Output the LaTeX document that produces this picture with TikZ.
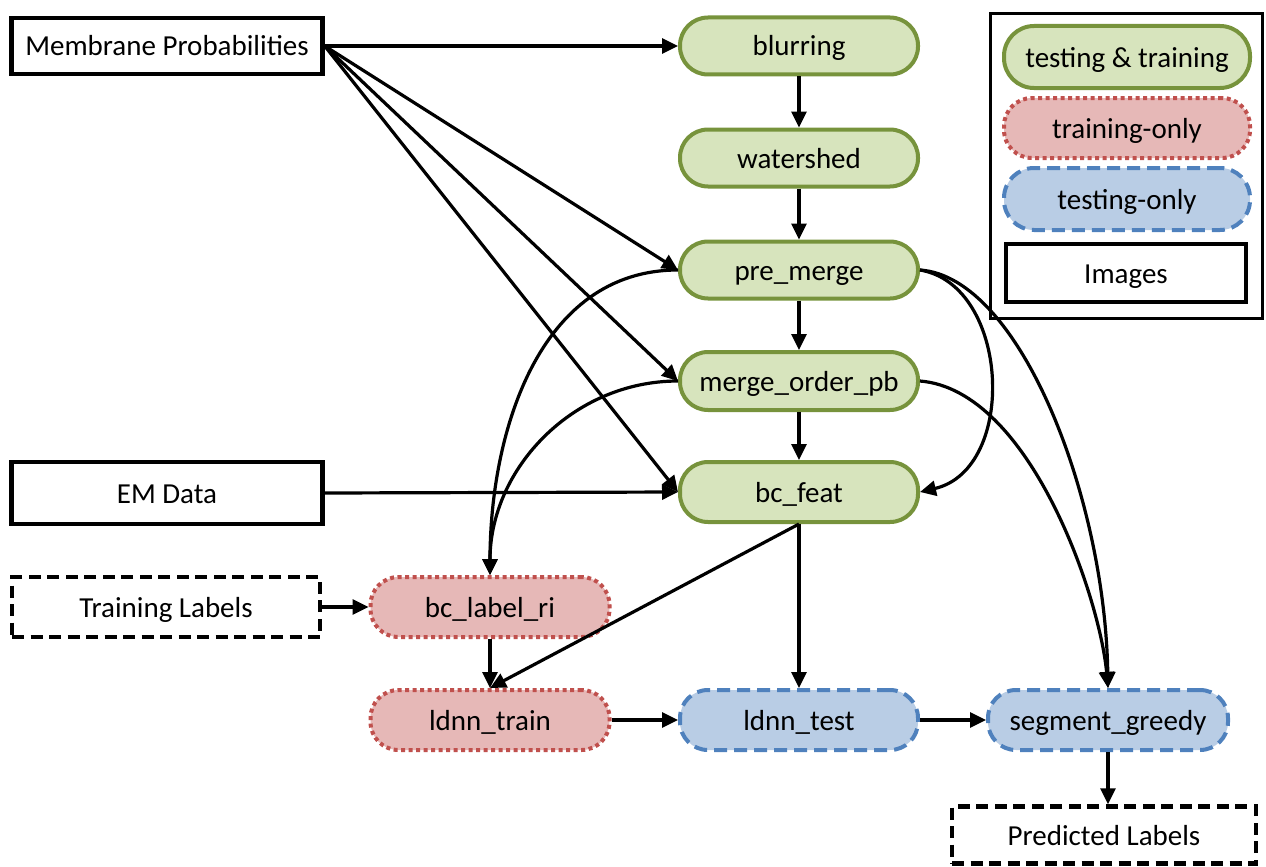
\documentclass[tikz,border=0pt]{standalone}
\usepackage{fontspec}
\setmainfont{Carlito}
\usetikzlibrary{arrows.meta}
\definecolor{gfill}{RGB}{215,228,189}
\definecolor{gdraw}{RGB}{119,147,60}
\definecolor{rfill}{RGB}{230,184,183}
\definecolor{rdraw}{RGB}{192,80,77}
\definecolor{bfill}{RGB}{185,205,229}
\definecolor{bdraw}{RGB}{79,129,189}
\tikzset{
  base/.style={minimum width=238pt, minimum height=57pt, inner sep=0pt, text height=24pt, text depth=4pt, font=\fontsize{29}{34}\selectfont},
  both/.style={base, rounded corners=28pt, fill=gfill, draw=gdraw, line width=4pt},
  trainonly/.style={base, rounded corners=28pt, fill=rfill, draw=rdraw, line width=4pt, dash pattern=on 4pt off 3.5pt},
  testonly/.style={base, rounded corners=28pt, fill=bfill, draw=bdraw, line width=4pt, dash pattern=on 13pt off 7pt},
  image/.style={base, draw=black, line width=4.5pt, minimum width=308pt},
  dimage/.style={image, dash pattern=on 12pt off 6.5pt},
  conn/.style={line width=3.2pt, -{Triangle[length=16pt,width=15pt]}},
}
\begin{document}
\begin{tikzpicture}[x=1pt,y=-1pt]
\useasboundingbox (0,0) rectangle (1266,867);
% legend
\node[draw=black, line width=3pt, minimum width=272pt, minimum height=304pt, inner sep=0pt] (legend) at (1126,166) {};
\node[both, minimum width=246pt, minimum height=62pt, rounded corners=30pt] (lg1) at (1127,57) {testing \& training};
\node[trainonly, minimum width=246pt, minimum height=60pt] (lg2) at (1127,128) {training-only};
\node[testonly, minimum width=246pt, minimum height=62pt, rounded corners=30pt] (lg3) at (1127,199) {testing-only};
\node[image, minimum width=240pt, minimum height=58pt] (lg4) at (1126,273) {Images};
% nodes
\node[image, minimum width=311pt, minimum height=56pt] (mp) at (167,46) {Membrane Probabilities};
\node[image, minimum width=311pt, minimum height=62pt] (em) at (167,493) {EM Data};
\node[dimage, minimum width=308pt, minimum height=60pt] (tl) at (166,607) {Training Labels};
\node[dimage, minimum width=304pt, minimum height=57pt] (pl) at (1104,835) {Predicted Labels};
\node[both] (blur) at (799,46) {blurring};
\node[both] (ws) at (799,158) {watershed};
\node[both] (pm) at (799,270) {pre\_merge};
\node[both, minimum height=58pt] (mo) at (799,381) {merge\_order\_pb};
\node[both, minimum height=60pt] (bf) at (799,492) {bc\_feat};
\node[trainonly, minimum width=239pt, minimum height=60pt] (bl) at (490,607) {bc\_label\_ri};
\node[trainonly, minimum width=239pt, minimum height=60pt] (lt) at (490,720) {ldnn\_train};
\node[testonly, minimum height=60pt] (lte) at (799,720) {ldnn\_test};
\node[testonly, minimum width=240pt, minimum height=60pt] (sg) at (1108,720) {segment\_greedy};
% connectors
\draw[conn] (mp.east) -- (blur.west);
\draw[conn] (mp.east) -- (pm.west);
\draw[conn] (mp.east) -- (mo.west);
\draw[conn] (mp.east) -- (bf.west);
\draw[conn] (blur) -- (ws);
\draw[conn] (ws) -- (pm);
\draw[conn] (pm) -- (mo);
\draw[conn] (mo) -- (bf);
\draw[conn] (em.east) -- (bf.west);
\draw[conn] (pm.west) to[out=180,in=90] (bl.north);
\draw[conn] (mo.west) to[out=180,in=90] (bl.north);
\draw[conn] (pm.east) .. controls +(90,15) and +(98,-23) .. (bf.east);
\draw[conn] (pm.east) .. controls +(100,7) and +(-3,-190) .. (sg.north);
\draw[conn] (mo.east) .. controls +(110,9) and +(-8,-90) .. (sg.north);
\draw[conn] (bf.south) -- (lte.north);
\draw[conn] (bf.south) -- (lt.north);
\draw[conn] (tl.east) -- (bl.west);
\draw[conn] (bl) -- (lt);
\draw[conn] (lt) -- (lte);
\draw[conn] (lte) -- (sg);
\draw[conn] (sg.south) -- (sg.south |- pl.north);
\end{tikzpicture}
\end{document}
